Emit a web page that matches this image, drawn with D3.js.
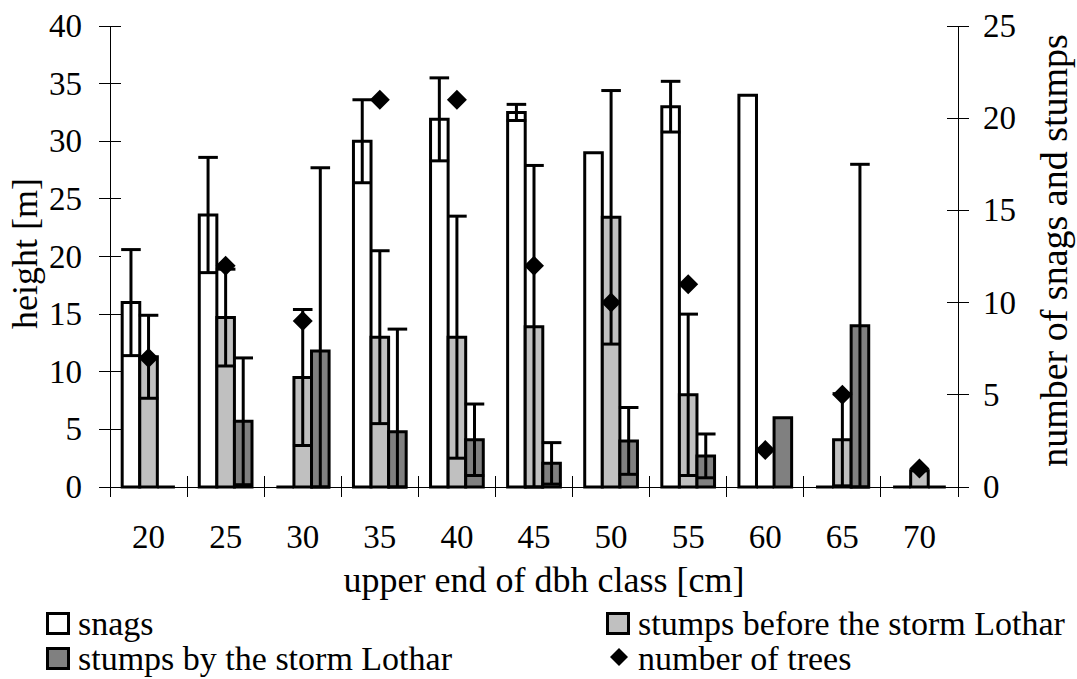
<!DOCTYPE html>
<html>
<head>
<meta charset="utf-8">
<script src="https://cdn.jsdelivr.net/npm/d3@7/dist/d3.min.js"></script>
<style>
  html, body { margin: 0; padding: 0; background: #fff; }
  svg { display: block; font-family: "Liberation Serif", "Times New Roman", serif; }
  svg text { font-family: "Liberation Serif", "Times New Roman", serif; }
</style>
</head>
<body>
<svg id="chart" width="1077" height="679"></svg>
<script>
// ---- data ----
const classes = ["20", "25", "30", "35", "40", "45", "50", "55", "60", "65", "70"];
const snags = [16, 23.6, 0, 30, 31.9, 32.5, 29, 33, 34, 0, 0];
const snagsSD = [4.6, 5, 0, 3.6, 3.6, 0.7, 0, 2.2, 0, 0, 0];
const stumpsBefore = [11.3, 14.7, 9.5, 13, 13, 13.9, 23.4, 8, 0, 4.1, 1.4];
const stumpsBeforeSD = [3.6, 4.2, 5.9, 7.5, 10.5, 14, 11, 7, 0, 4, 0];
const stumpsBy = [0, 5.7, 11.8, 4.8, 4.1, 2.05, 4, 2.7, 6, 14, 0];
const stumpsBySD = [0, 5.5, 15.9, 8.9, 3.1, 1.8, 2.9, 1.9, 0, 14, 0];
const trees = [7, 12, 9, 21, 21, 12, 10, 11, 2, 5, 1];
const leftTicks = [0, 5, 10, 15, 20, 25, 30, 35, 40];
const rightTicks = [0, 5, 10, 15, 20, 25];
const seriesNames = ["snags", "stumps before the storm Lothar", "stumps by the storm Lothar"];
const seriesFill = ["#ffffff", "#c0c0c0", "#808080"];

const svg = d3.select("#chart");
const plot = { left: 110, right: 958, top: 26, bottom: 487 };
const FONT = "Liberation Serif, Times New Roman, serif";

const x0 = d3.scaleBand().domain(classes).range([plot.left, plot.right]).paddingInner(0).paddingOuter(0);
const bw = x0.bandwidth();
const gw = bw * 0.684;
const x1 = d3.scaleBand().domain(seriesNames).range([(bw - gw) / 2, (bw + gw) / 2]);
const yL = d3.scaleLinear().domain([0, 40]).range([plot.bottom, plot.top]).clamp(true);
const yR = d3.scaleLinear().domain([0, 25]).range([plot.bottom, plot.top]);

const series = [
  { name: seriesNames[0], vals: snags, sd: snagsSD, fill: seriesFill[0] },
  { name: seriesNames[1], vals: stumpsBefore, sd: stumpsBeforeSD, fill: seriesFill[1] },
  { name: seriesNames[2], vals: stumpsBy, sd: stumpsBySD, fill: seriesFill[2] }
];

// ---- axes lines & ticks ----
const axisG = svg.append("g").attr("stroke", "#000").attr("stroke-width", 1).attr("shape-rendering", "crispEdges");
axisG.append("line").attr("x1", plot.left).attr("x2", plot.left).attr("y1", yL(40)).attr("y2", yL(0));
axisG.append("line").attr("x1", plot.right).attr("x2", plot.right).attr("y1", yR(25)).attr("y2", yR(0));
axisG.append("line").attr("x1", plot.left).attr("x2", plot.right).attr("y1", yL(0)).attr("y2", yL(0));
axisG.selectAll("line.lt").data(leftTicks).enter().append("line")
  .attr("x1", plot.left - 11).attr("x2", plot.left + 11).attr("y1", d => yL(d)).attr("y2", d => yL(d));
axisG.selectAll("line.rt").data(rightTicks).enter().append("line")
  .attr("x1", plot.right - 11).attr("x2", plot.right + 11).attr("y1", d => yR(d)).attr("y2", d => yR(d));
const bounds = classes.map(c => x0(c)).concat([plot.right]);
axisG.selectAll("line.xt").data(bounds).enter().append("line")
  .attr("x1", d => d).attr("x2", d => d).attr("y1", plot.bottom - 11).attr("y2", plot.bottom + 10);

// tick labels
const leftAxis = d3.axisLeft(yL).tickValues(leftTicks).tickSize(0).tickPadding(28);
const gL = svg.append("g").attr("transform", `translate(${plot.left},0)`).call(leftAxis);
gL.attr("font-family", FONT);
gL.select(".domain").remove();
gL.selectAll("text").attr("font-size", 33).attr("font-family", FONT).attr("fill", "#000");

const rightAxis = d3.axisRight(yR).tickValues(rightTicks).tickSize(0).tickPadding(25);
const gR = svg.append("g").attr("transform", `translate(${plot.right},0)`).call(rightAxis);
gR.attr("font-family", FONT);
gR.select(".domain").remove();
gR.selectAll("text").attr("font-size", 33).attr("font-family", FONT).attr("fill", "#000");

const bottomAxis = d3.axisBottom(x0).tickSize(0).tickPadding(0);
const gB = svg.append("g").attr("transform", `translate(0,${plot.bottom})`).call(bottomAxis);
gB.attr("font-family", FONT);
gB.select(".domain").remove();
gB.selectAll("text").attr("font-size", 33).attr("font-family", FONT).attr("fill", "#000")
  .attr("dy", null).attr("y", 61);

// ---- bars ----
const barG = svg.append("g");
series.forEach(s => {
  barG.selectAll(null).data(classes).enter().append("path")
    .attr("d", (c, i) => {
      const x = x0(c) + x1(s.name), w = x1.bandwidth();
      const y0 = yL(0), y1 = yL(s.vals[i]);
      return `M${x},${y0}L${x},${y1}L${x + w},${y1}L${x + w},${y0}Z`;
    })
    .attr("fill", s.fill).attr("stroke", "#000").attr("stroke-width", 3).attr("stroke-linejoin", "miter");
});

// ---- error bars ----
const errG = svg.append("g").attr("stroke", "#000").attr("stroke-width", 3).attr("fill", "none");
series.forEach(s => {
  classes.forEach((c, i) => {
    if (!s.sd[i]) return;
    const cx = x0(c) + x1(s.name) + x1.bandwidth() / 2;
    const hw = x1.bandwidth() / 2 + 1;
    const yt = yL(s.vals[i] + s.sd[i]), yb = yL(s.vals[i] - s.sd[i]);
    errG.append("line").attr("x1", cx).attr("x2", cx).attr("y1", yt).attr("y2", yb);
    errG.append("line").attr("x1", cx - hw).attr("x2", cx + hw).attr("y1", yt).attr("y2", yt);
    errG.append("line").attr("x1", cx - hw).attr("x2", cx + hw).attr("y1", yb).attr("y2", yb);
  });
});

// ---- diamonds (number of trees, right axis) ----
const diamond = d3.symbol().type(d3.symbolSquare).size(200);
svg.append("g").selectAll("path").data(classes).enter().append("path")
  .attr("d", diamond)
  .attr("transform", (c, i) => `translate(${x0(c) + bw / 2},${yR(trees[i])}) rotate(45)`)
  .attr("fill", "#000");

// ---- axis titles ----
svg.append("text").attr("x", (plot.left + plot.right) / 2 + 10).attr("y", 592)
  .attr("text-anchor", "middle").attr("font-size", 36).attr("font-family", FONT).text("upper end of dbh class [cm]");
svg.append("text").attr("transform", `translate(37,${(plot.top + plot.bottom) / 2 - 3}) rotate(-90)`)
  .attr("text-anchor", "middle").attr("font-size", 36).attr("font-family", FONT).text("height [m]");
svg.append("text").attr("transform", `translate(1067,${(plot.top + plot.bottom) / 2 - 6}) rotate(-90)`)
  .attr("text-anchor", "middle").attr("font-size", 38).attr("font-family", FONT).text("number of snags and stumps");

// ---- legend ----
const legend = [
  { label: seriesNames[0], type: "box", fill: seriesFill[0], x: 46, y: 612 },
  { label: seriesNames[1], type: "box", fill: seriesFill[1], x: 606, y: 612 },
  { label: seriesNames[2], type: "box", fill: seriesFill[2], x: 46, y: 647 },
  { label: "number of trees", type: "diamond", x: 606, y: 647 }
];
const lg = svg.append("g");
legend.forEach(d => {
  if (d.type === "box") {
    lg.append("rect").attr("x", d.x + 1.5).attr("y", d.y + 1.5).attr("width", 21).attr("height", 20)
      .attr("fill", d.fill).attr("stroke", "#000").attr("stroke-width", 3);
  } else {
    lg.append("path").attr("d", d3.symbol().type(d3.symbolSquare).size(162)())
      .attr("transform", `translate(${d.x + 13},${d.y + 10}) rotate(45)`).attr("fill", "#000");
  }
  lg.append("text").attr("x", d.x + 32).attr("y", d.y + 23).attr("font-size", 34)
    .attr("font-family", FONT).text(d.label);
});
</script>
</body>
</html>
